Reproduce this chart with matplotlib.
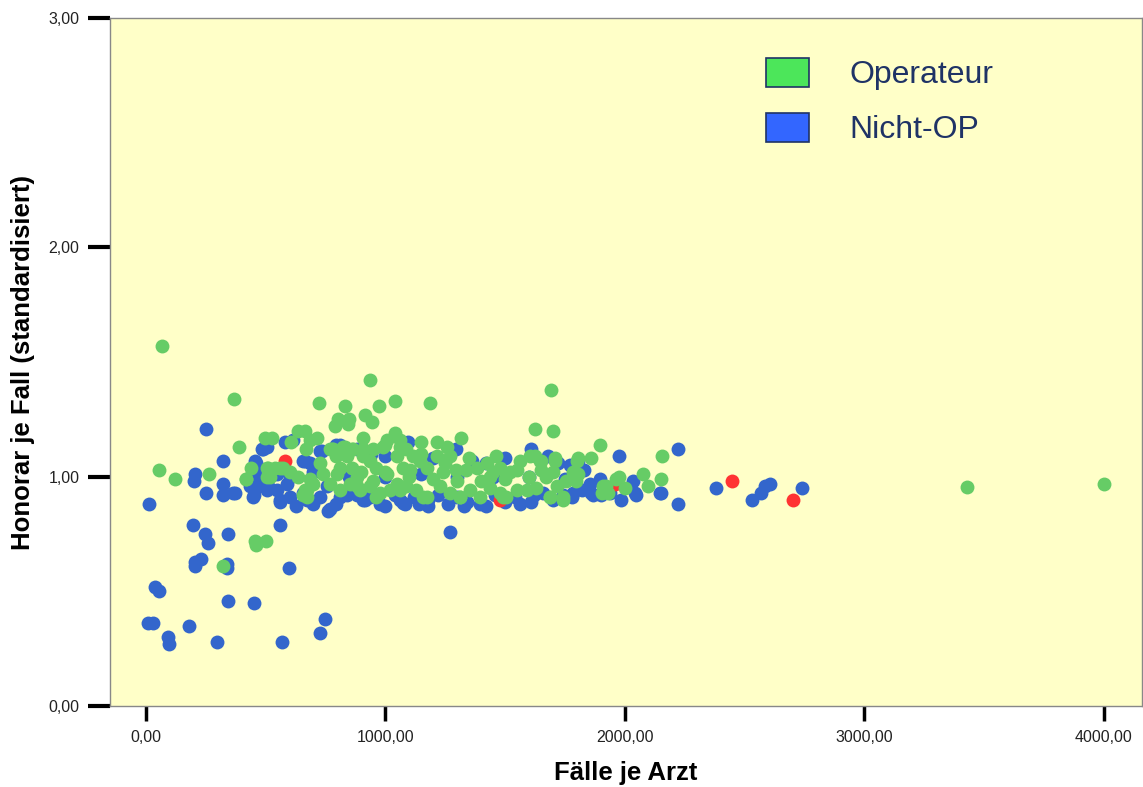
import matplotlib
matplotlib.use("Agg")
import matplotlib.pyplot as plt
from matplotlib.patches import Patch
import numpy as np

plt.rcParams['font.family'] = ['Liberation Sans', 'DejaVu Sans']

# (Fälle je Arzt, Honorar je Fall) pairs per group
nicht_op = [
    # lower left spread
    (253, 1.21), (14, 0.88), (195, 0.79), (246, 0.75), (260, 0.71), (344, 0.75),
    (205, 0.63), (232, 0.64), (205, 0.61), (337, 0.62), (340, 0.60), (598, 0.60),
    (38, 0.52), (56, 0.50), (344, 0.46), (451, 0.45), (10, 0.36), (28, 0.36),
    (181, 0.35), (91, 0.30), (97, 0.27), (298, 0.28), (568, 0.28), (749, 0.38),
    (727, 0.32), (562, 0.79), (205, 1.01), (202, 0.98), (253, 0.93), (323, 1.07),
    (323, 0.97), (323, 0.92), (365, 0.93), (451, 0.92), (1272, 0.76),
    # right tail
    (2224, 1.12), (2224, 0.88), (2381, 0.95), (2532, 0.90), (2568, 0.93),
    (2587, 0.96), (2605, 0.97), (2740, 0.95), (2150, 0.93), (1976, 1.09),
    (2035, 0.98), (2049, 0.92), (1986, 0.90), (2042, 0.93), (1896, 0.99),
    (1861, 0.93), (1805, 1.07), (1854, 0.97), (1785, 0.93), (1868, 0.92),
    (2146, 0.93),
    # main band, upper edge
    (489, 1.12), (580, 1.15), (614, 1.16), (664, 1.07), (727, 1.11), (810, 1.14),
    (462, 1.04), (1073, 1.15), (1095, 1.15), (1297, 1.12), (1360, 1.07),
    (1610, 1.12), (1680, 1.09), (483, 1.12), (504, 1.13), (734, 1.11),
    (462, 1.06), (657, 1.07), (685, 1.06), (796, 1.14), (455, 1.07),
    (1720, 1.06), (1770, 1.05), (1830, 1.03), (1500, 1.08), (1420, 1.06),
    (1200, 1.08), (940, 1.10), (880, 1.12), (1000, 1.09),
    # main band, lower edge
    (629, 0.87), (768, 0.86), (977, 0.88), (1073, 0.885), (447, 0.91),
    (560, 0.90), (372, 0.93), (469, 0.96), (504, 0.94), (546, 0.94), (588, 0.97),
    (601, 0.91), (546, 1.01), (657, 0.93), (727, 0.91), (699, 0.88), (755, 0.96),
    (810, 0.91), (880, 0.92), (935, 0.91), (907, 0.90), (1061, 0.90),
    (511, 0.96), (560, 0.89), (761, 0.85), (671, 0.90), (796, 0.88), (914, 0.90),
    (434, 0.96), (462, 1.00), (1081, 0.88), (1179, 0.90), (1395, 0.88),
    (1562, 0.88), (1140, 0.88), (1220, 0.92), (1260, 0.88), (1300, 0.91),
    (1340, 0.89), (1460, 0.92), (1500, 0.89), (1540, 0.91), (1620, 0.92),
    (1660, 0.93), (1700, 0.90), (1740, 0.92), (1820, 0.94), (1900, 0.92),
    (1940, 0.93), (840, 0.92), (1000, 0.87), (1040, 0.92), (1120, 0.91),
    (1420, 0.87), (1180, 0.87), (1330, 0.87), (1610, 0.89), (1780, 0.91),
    # middle of the band
    (600, 1.00), (700, 1.02), (850, 1.00), (1000, 1.00), (1150, 1.01),
    (1300, 1.00), (1450, 1.00), (1600, 1.00), (1750, 0.99),
]

operateur = [
    # scattered
    (68, 1.57), (367, 1.34), (390, 1.13), (54, 1.03), (122, 0.99), (263, 1.01),
    (455, 0.72), (462, 0.70), (501, 0.72), (323, 0.61), (420, 0.99), (938, 1.42),
    (724, 1.32), (832, 1.31), (1040, 1.33), (974, 1.31), (803, 1.25), (849, 1.25),
    (789, 1.22), (845, 1.23), (914, 1.27), (946, 1.24), (907, 1.17), (497, 1.17),
    (525, 1.17), (636, 1.20), (664, 1.20), (713, 1.17), (685, 1.16), (608, 1.15),
    (1005, 1.16), (1040, 1.19), (998, 1.14), (1694, 1.38), (1186, 1.32),
    (1624, 1.21), (1699, 1.20), (1896, 1.14), (1318, 1.17), (2157, 1.09),
    (2150, 0.99), (2077, 1.01), (2097, 0.96), (1976, 1.00), (2000, 0.95),
    (3428, 0.955), (4000, 0.97),
    # right part of the band
    (1805, 1.08), (1857, 1.08), (1708, 1.08), (1624, 1.09), (1652, 1.07),
    (1923, 0.96), (1965, 0.99), (1903, 0.93), (1743, 0.91), (1687, 0.91),
    (1311, 0.91), (1492, 0.91), (1158, 0.91), (1805, 1.01), (1798, 0.98),
    (1909, 0.96), (1930, 0.93),
    # left part of the band
    (668, 1.12), (782, 1.12), (831, 1.13), (859, 1.12), (907, 1.12), (949, 1.12),
    (991, 1.13), (1061, 1.13), (441, 1.04), (420, 0.99), (511, 1.04), (560, 1.04),
    (601, 1.02), (636, 1.00), (518, 1.00), (685, 0.99), (664, 0.94), (671, 0.91),
    (699, 0.97), (727, 1.06), (740, 1.01),
    (768, 1.12), (796, 1.09), (810, 1.04), (838, 1.09), (859, 1.04), (880, 1.00),
    (907, 1.09), (935, 1.07), (963, 1.04), (1005, 1.01), (1047, 1.09),
    (1075, 1.04),
    (768, 0.97), (810, 0.94), (852, 0.97), (894, 0.94), (935, 0.96), (977, 0.93),
    (1019, 0.94), (1061, 0.94), (963, 0.91), (880, 0.96),
    # centre of the band
    (1151, 1.15), (1214, 1.15), (1256, 1.13), (1061, 1.16),
    (1088, 1.12), (1116, 1.09), (1144, 1.07), (1102, 1.03), (1172, 1.04),
    (1214, 1.09), (1269, 1.09), (1241, 1.02), (1297, 1.03), (1339, 1.03),
    (1381, 1.04), (1423, 1.06), (1464, 1.09), (1478, 1.04), (1436, 1.00),
    (1520, 1.02), (1562, 1.07), (1603, 1.09), (1645, 1.07), (1673, 1.00),
    (1708, 1.07), (1756, 0.98), (1799, 1.07), (1785, 1.02),
    (1088, 0.96), (1130, 0.94), (1172, 0.91), (1228, 0.96), (1269, 0.93),
    (1311, 0.91), (1353, 0.94), (1395, 0.91), (1436, 0.95), (1478, 0.93),
    (1506, 0.91), (1548, 0.94), (1590, 0.94), (1631, 0.95), (1687, 0.91),
    (1743, 0.90), (1715, 0.96),
    (671, 0.94), (657, 0.92), (504, 1.04), (539, 1.04), (573, 1.04), (504, 1.00),
    (779, 1.12), (824, 1.13), (866, 1.12),
    (1000, 1.02), (1100, 1.00), (1200, 0.99), (1300, 0.98), (1400, 0.98),
    (1500, 0.99), (1600, 1.00), (900, 1.02), (800, 1.01), (1250, 1.06),
    (1350, 1.08), (1550, 1.03), (1450, 1.02), (1650, 1.03), (1700, 1.02),
    (1150, 1.10), (950, 0.98), (1050, 0.97),
]

sonstige = [(580, 1.07), (1478, 0.90), (1958, 0.97), (2449, 0.98), (2703, 0.90)]

x_ticks = [0, 1000, 2000, 3000, 4000]
y_ticks = [0, 1, 2, 3]
legend_labels = ['Operateur', 'Nicht-OP']

blue = np.array(nicht_op)
green = np.array(operateur)
red = np.array(sonstige)

fig = plt.figure(figsize=(11.43, 7.87), dpi=100)
ax = fig.add_axes([0.0962, 0.1029, 0.9029, 0.8742])
ax.set_facecolor('#FFFFC8')

ms = 100
ax.scatter(blue[:, 0], blue[:, 1], s=ms, color='#3366CC', linewidths=0, zorder=2)
ax.scatter(red[:, 0], red[:, 1], s=ms, color='#FF3333', linewidths=0, zorder=2)
ax.scatter(green[:, 0], green[:, 1], s=ms, color='#66CC66', linewidths=0, zorder=2)

ax.set_xlim(-150, 4160)
ax.set_ylim(0, 3)

ax.set_xticks(x_ticks)
ax.set_xticklabels(['%d,00' % v for v in x_ticks])
ax.set_yticks(y_ticks)
ax.set_yticklabels(['%d,00' % v for v in y_ticks])

for s in ax.spines.values():
    s.set_color('#888888')
    s.set_linewidth(1)

ax.tick_params(axis='y', direction='out', length=16, width=3, color='black',
               pad=6, labelsize=11.5, labelcolor='#222222')
ax.tick_params(axis='x', direction='out', length=11, width=2.5, color='black',
               pad=6, labelsize=11.5, labelcolor='#222222')

ax.set_xlabel('Fälle je Arzt', fontsize=18.5, fontweight='bold', labelpad=12)
ax.set_ylabel('Honorar je Fall (standardisiert)', fontsize=18.5, fontweight='bold',
              labelpad=10)

handles = [Patch(facecolor='#4CE65A', edgecolor='#1F3366', linewidth=1.2),
           Patch(facecolor='#3366FF', edgecolor='#1F3366', linewidth=1.2)]
leg = ax.legend(handles, legend_labels, loc='upper left',
                bbox_to_anchor=(0.608, 0.984), frameon=False, fontsize=23,
                handlelength=1.35, handleheight=1.03, handletextpad=1.25,
                labelspacing=0.7)
for t in leg.get_texts():
    t.set_color('#1F3366')

fig.savefig('out.png', dpi=100)
